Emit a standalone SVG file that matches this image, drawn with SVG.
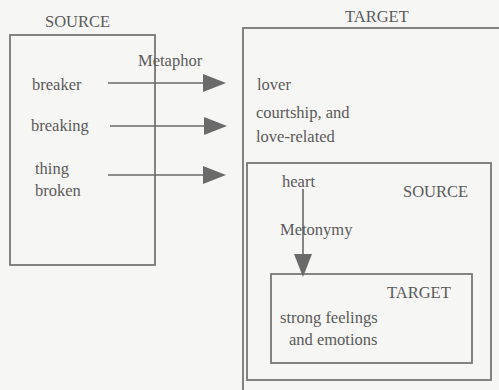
<svg xmlns="http://www.w3.org/2000/svg" width="499" height="390" viewBox="0 0 499 390">
<style>
text{font-family:"Liberation Serif","Times New Roman",serif;font-size:16.5px;fill:#5a5a5a}
.box{fill:none;stroke:#777;stroke-width:1.8}
.ln{stroke:#6a6a6a;stroke-width:1.6;fill:none}
.ah{fill:#6a6a6a}
</style>
<rect width="499" height="390" fill="#f6f6f4"/>
<g id="source-box">
<rect class="box" x="10" y="35" width="145" height="230"/>
<text x="45" y="27">SOURCE</text>
<text x="32" y="90">breaker</text>
<text x="31" y="131">breaking</text>
<text x="35" y="174">thing</text>
<text x="35" y="196">broken</text>
</g>
<g id="target-box">
<rect class="box" x="243" y="28" width="300" height="400"/>
<text x="345" y="22">TARGET</text>
<text x="257" y="90">lover</text>
<text x="256" y="118">courtship, and</text>
<text x="256" y="142">love-related</text>
</g>
<g id="inner-source">
<rect class="box" x="247" y="163" width="244" height="217"/>
<text x="282" y="187">heart</text>
<text x="403" y="197">SOURCE</text>
</g>
<g id="inner-target">
<rect class="box" x="271" y="274" width="201" height="89"/>
<text x="387" y="298">TARGET</text>
<text x="280" y="323">strong feelings</text>
<text x="289" y="345">and emotions</text>
</g>
<g id="connectors">
<line class="ln" x1="108" y1="83" x2="205" y2="83"/>
<polygon class="ah" points="203,74 226,83 203,92"/>
<line class="ln" x1="110" y1="126" x2="205" y2="126"/>
<polygon class="ah" points="204,117 227,126 204,135"/>
<line class="ln" x1="108" y1="175" x2="205" y2="175"/>
<polygon class="ah" points="203,166 226,175 203,184"/>
<text x="138" y="66">Metaphor</text>
<line class="ln" x1="303" y1="189" x2="303" y2="256"/>
<polygon class="ah" points="294,254 312,254 303,277"/>
<text x="280" y="235">Metonymy</text>
</g>
</svg>
